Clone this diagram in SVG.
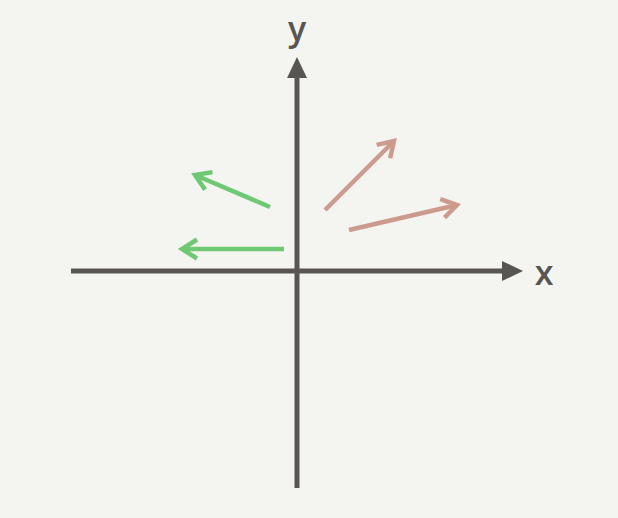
<svg xmlns="http://www.w3.org/2000/svg" width="618" height="518" viewBox="0 0 618 518">
<style>
.axis{stroke:#595652;stroke-width:5;fill:none}
.head{fill:#595652}
.lbl{font-family:"Open Sans","Liberation Sans",Arial,sans-serif;font-weight:600;font-size:34px;fill:#595652;text-anchor:middle}
.g{stroke:#6fc873;stroke-width:4.5;fill:none}
.r{stroke:#cc9b8e;stroke-width:4.5;fill:none}
</style>
<defs>
<marker id="mg" markerUnits="userSpaceOnUse" markerWidth="30" markerHeight="30" refX="0" refY="0" viewBox="-20 -15 30 30" orient="auto" overflow="visible">
<path d="M-15,-9.5 L0,0 L-15,9.5" fill="none" stroke="#6fc873" stroke-width="4.5"/>
</marker>
<marker id="mr" markerUnits="userSpaceOnUse" markerWidth="30" markerHeight="30" refX="0" refY="0" viewBox="-20 -15 30 30" orient="auto" overflow="visible">
<path d="M-15,-9.5 L0,0 L-15,9.5" fill="none" stroke="#cc9b8e" stroke-width="4.5"/>
</marker>
</defs>
<rect width="618" height="518" fill="#f4f4f1"/>
<g id="axes">
<line class="axis" x1="297" y1="488" x2="297" y2="74"/>
<polygon class="head" points="297,57 307,78 287,78"/>
<line class="axis" x1="71" y1="271" x2="506" y2="271"/>
<polygon class="head" points="523,271 502,261 502,281"/>
<text class="lbl" x="297" y="41">y</text>
<text class="lbl" x="544" y="285">x</text>
</g>
<g id="connectors">
<line class="g" x1="270" y1="207" x2="195" y2="175" marker-end="url(#mg)"/>
<line class="g" x1="284" y1="249" x2="182" y2="249" marker-end="url(#mg)"/>
<line class="r" x1="325" y1="210" x2="394" y2="141" marker-end="url(#mr)"/>
<line class="r" x1="349" y1="230" x2="457" y2="205" marker-end="url(#mr)"/>
</g>
</svg>
